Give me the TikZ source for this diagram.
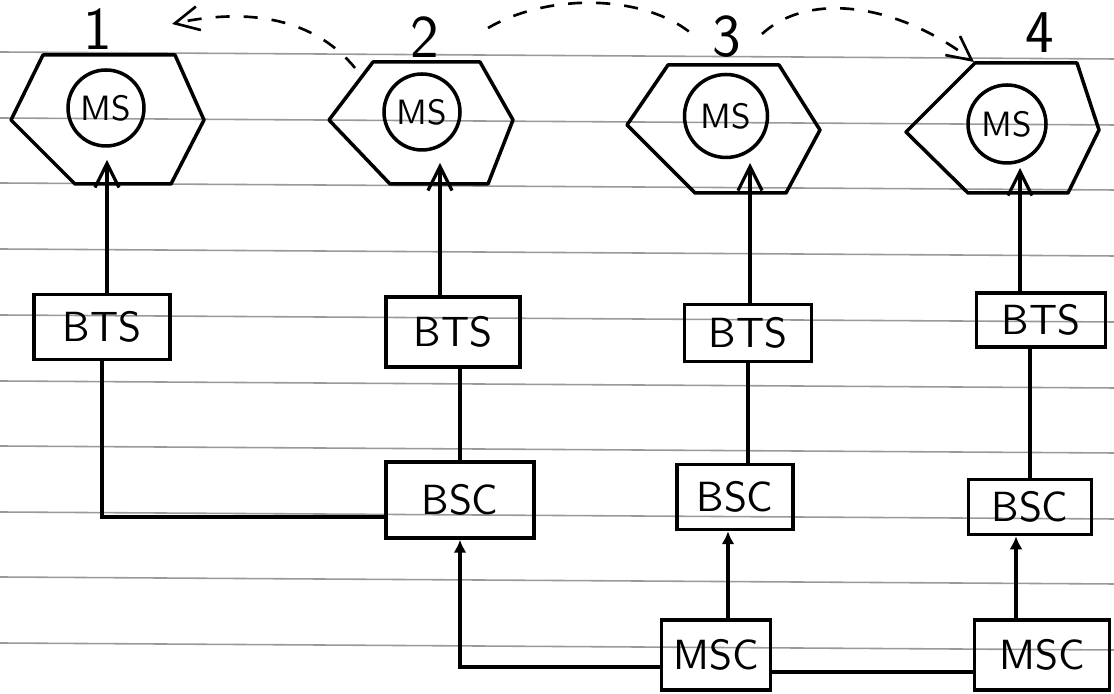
\documentclass[tikz,border=0pt]{standalone}
\usetikzlibrary{arrows.meta}
\begin{document}
\begin{tikzpicture}[x=1cm,y=-1cm,
  >={Straight Barb[length=2.4mm,width=2.4mm]},
  box/.style={draw,line width=1pt,inner sep=0pt,font=\sffamily\large},
  cell/.style={line width=1pt,line join=round},
  ms/.style={draw,circle,line width=1pt,inner sep=0pt,font=\sffamily},
  num/.style={font=\sffamily\LARGE,inner sep=0pt},
  wire/.style={line width=0.9pt},
  hop/.style={line width=0.75pt,dash pattern=on 4pt off 4pt},
  dot/.style={-{Latex[length=1.3mm,width=1.3mm]}},
  rule/.style={black!40,line width=0.45pt}]
\useasboundingbox (0,0) rectangle (11.14,6.94);

% ruled paper
\foreach \y in {0.52,1.18,1.83,2.49,3.15,3.81,4.46,5.12,5.77,6.43}
  \draw[rule] (0,\y) -- (11.14,\y+0.07);

% cells
\draw[cell] (0.11,1.20) -- (0.43,0.55) -- (1.75,0.55) -- (2.04,1.20) -- (1.71,1.84) -- (0.75,1.84) -- cycle;
\draw[cell] (3.29,1.20) -- (3.73,0.62) -- (4.80,0.62) -- (5.13,1.20) -- (4.88,1.84) -- (3.90,1.84) -- cycle;
\draw[cell] (6.27,1.25) -- (6.68,0.65) -- (7.79,0.65) -- (8.20,1.30) -- (7.86,1.93) -- (6.95,1.93) -- cycle;
\draw[cell] (9.06,1.32) -- (9.75,0.63) -- (10.77,0.63) -- (10.99,1.30) -- (10.68,1.93) -- (9.68,1.93) -- cycle;

\node[ms,minimum size=0.76cm] (ms1) at (1.06,1.08) {MS};
\node[ms,minimum size=0.76cm] (ms2) at (4.22,1.12) {MS};
\node[ms,minimum size=0.83cm] (ms3) at (7.26,1.16) {MS};
\node[ms,minimum size=0.78cm] (ms4) at (10.07,1.24) {MS};

\node[num] (lab1) at (0.98,0.29) {1};
\node[num] (lab2) at (4.25,0.37) {2};
\node[num] (lab3) at (7.27,0.37) {3};
\node[num] (lab4) at (10.40,0.33) {4};

% where the uplinks end
\coordinate (t1) at (1.07,1.60);
\coordinate (t2) at (4.40,1.63);
\coordinate (t3) at (7.50,1.63);
\coordinate (t4) at (10.20,1.68);

% handover
\coordinate (h1a) at (3.55,0.68);
\coordinate (h1b) at (1.72,0.24);
\coordinate (h2a) at (4.88,0.28);
\coordinate (h2b) at (6.92,0.34);
\coordinate (h3a) at (7.62,0.34);
\coordinate (h3b) at (9.74,0.62);
\draw[hop,->] (h1a) .. controls (3.2,0.25) and (2.6,0.05) .. (h1b);
\draw[hop] (h2a) .. controls (5.5,-0.08) and (6.45,-0.05) .. (h2b);
\draw[hop,->] (h3a) .. controls (8.1,-0.1) and (9.0,0.05) .. (h3b);

% stations and controllers
\node[box,minimum width=1.36cm,minimum height=0.65cm] (bts1) at (1.02,3.27) {BTS};
\node[box,minimum width=1.34cm,minimum height=0.70cm] (bts2) at (4.53,3.32) {BTS};
\node[box,minimum width=1.27cm,minimum height=0.57cm] (bts3) at (7.48,3.33) {BTS};
\node[box,minimum width=1.29cm,minimum height=0.54cm] (bts4) at (10.41,3.20) {BTS};

\node[box,minimum width=1.48cm,minimum height=0.76cm] (bsc2) at (4.60,5.00) {BSC};
\node[box,minimum width=1.16cm,minimum height=0.65cm] (bsc3) at (7.35,4.97) {BSC};
\node[box,minimum width=1.23cm,minimum height=0.55cm] (bsc4) at (10.30,5.07) {BSC};

\node[box,minimum width=1.09cm,minimum height=0.70cm] (msc3) at (7.16,6.55) {MSC};
\node[box,minimum width=1.35cm,minimum height=0.70cm] (msc4) at (10.42,6.55) {MSC};

\draw[wire,->] (bts1.north -| t1) -- (t1);
\draw[wire,->] (bts2.north -| t2) -- (t2);
\draw[wire,->] (bts3.north -| t3) -- (t3);
\draw[wire,->] (bts4.north -| t4) -- (t4);

\draw[wire] (bts1.south) |- ([yshift=-0.17cm]bsc2.west);
\draw[wire] (bsc2.north |- bts2.south) -- (bsc2.north);
\draw[wire] (bts3.south) -- (bts3.south |- bsc3.north);
\draw[wire] (bsc4.north |- bts4.south) -- (bsc4.north);

\draw[wire,dot] ([yshift=-0.12cm]msc3.west) -| (bsc2.south);
\draw[wire,dot] ([xshift=0.12cm]msc3.north) -- ([xshift=0.12cm]msc3.north |- bsc3.south);
\draw[wire,dot] ([xshift=-0.26cm]msc4.north) -- ([xshift=-0.26cm]msc4.north |- bsc4.south);
\draw[wire] ([yshift=-0.17cm]msc3.east) -- ([yshift=-0.17cm]msc4.west);
\end{tikzpicture}
\end{document}
